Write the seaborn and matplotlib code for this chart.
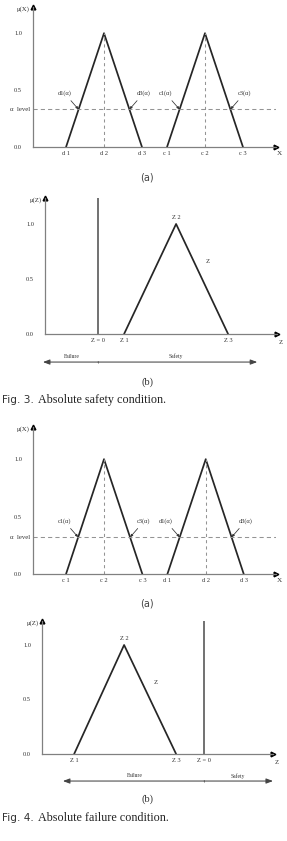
import numpy as np
import pandas as pd
import seaborn as sns
import matplotlib.pyplot as plt

# ---------------- data ----------------
mu_tri = [0.0, 1.0, 0.0]                 # membership of triangle vertices
fig3_d = [0.87, 1.87, 2.87]              # d1, d2, d3 (Fig 3a)
fig3_c = [3.53, 4.53, 5.53]              # c1, c2, c3 (Fig 3a)
fig3_alpha = 0.33
fig3_xticklabels = ["d 1", "d 2", "d 3", "c 1", "c 2", "c 3"]
fig3_z = [1.52, 2.52, 3.52]              # Z1, Z2, Z3 (Fig 3b)
fig3_zero = 1.02                         # Z = 0 (Fig 3b)

fig4_c = [0.87, 1.87, 2.88]              # c1, c2, c3 (Fig 4a)
fig4_d = [3.54, 4.55, 5.55]              # d1, d2, d3 (Fig 4a)
fig4_alpha = 0.32
fig4_xticklabels = ["c 1", "c 2", "c 3", "d 1", "d 2", "d 3"]
fig4_z = [0.63, 1.61, 2.63]
fig4_zero = 3.18

ytick_major = [0.0, 0.5, 1.0]
ytick_major_labels = ["0.0", "0.5", "1.0"]
ytick_minor = [0.25, 0.75]

# ---------------- style ----------------
sns.set_style("white")
plt.rcParams["font.family"] = ["Liberation Serif", "DejaVu Serif"]

W, H = 287, 841
fig = plt.figure(figsize=(W / 100, H / 100), dpi=100)

AX_COL = "#808080"
LINE_COL = "#262626"
DASH_COL = "#949494"
TICK_FS = 4.6


def add_ax(left_px, axis_y_px, width_px, height_px):
    return fig.add_axes([left_px / W, 1 - axis_y_px / H, width_px / W, height_px / H])


def base_axes(ax, xlim, ylim, ylabel):
    ax.set_xlim(*xlim)
    ax.set_ylim(*ylim)
    for s in ["top", "right"]:
        ax.spines[s].set_visible(False)
    for s in ["left", "bottom"]:
        ax.spines[s].set_color(AX_COL)
        ax.spines[s].set_linewidth(0.9)
    ax.set_yticks(ytick_major)
    ax.set_yticklabels(ytick_major_labels)
    ax.set_yticks(ytick_minor, minor=True)
    ax.tick_params(axis="y", which="both", length=3, width=0.6, color=AX_COL,
                   labelsize=TICK_FS, pad=5, labelcolor="#333333")
    ax.tick_params(axis="x", length=0, labelsize=TICK_FS, pad=3, labelcolor="#333333")
    ax.plot(0, 1, marker="^", color="black", ms=3.4, transform=ax.transAxes, clip_on=False)
    ax.plot(1, 0, marker=">", color="black", ms=3.4, transform=ax.transAxes, clip_on=False)
    ax.annotate(ylabel, xy=(0, 1), xycoords="axes fraction", xytext=(-2.6, -1.5),
                textcoords="offset points", ha="right", va="center",
                fontsize=4.9, color="#333333", zorder=10)
    ax.grid(False)


def triangle(ax, xs):
    df = pd.DataFrame({"x": xs, "mu": mu_tri})
    sns.lineplot(data=df, x="x", y="mu", ax=ax, color=LINE_COL, lw=1.25,
                 sort=False, estimator=None, legend=False)


def alpha_panel(ax, left, right, alpha, xticklabels, lab_l, lab_r, axis_letter):
    triangle(ax, left)
    triangle(ax, right)
    ax.axhline(alpha, color=DASH_COL, lw=0.75, ls=(0, (4, 3)))
    for tri in (left, right):
        ax.plot([tri[1], tri[1]], [0, 1], color=DASH_COL, lw=0.75, ls=(0, (3, 3)))
    ax.set_xticks(left + right)
    ax.set_xticklabels(xticklabels)
    ax.set_xlabel("")
    ax.set_ylabel("")
    ax.text(-0.01, alpha, "α  level", transform=ax.get_yaxis_transform(),
            ha="right", va="center", fontsize=4.9, color="#333333")
    ax.annotate(axis_letter, xy=(1, 0), xycoords="axes fraction", xytext=(2.5, -5),
                textcoords="offset points", ha="center", va="center",
                fontsize=5.2, color="#333333")
    arrow = dict(arrowstyle="-|>,head_length=0.35,head_width=0.15", color="#333333",
                 lw=0.55, shrinkA=1, shrinkB=0)
    for tri, (ll, lr) in ((left, lab_l), (right, lab_r)):
        xl = tri[0] + alpha * (tri[1] - tri[0])
        xr = tri[2] - alpha * (tri[2] - tri[1])
        ax.annotate(ll, xy=(xl, alpha), xytext=(-10, 11.5), textcoords="offset points",
                    ha="center", va="center", fontsize=4.6, color="#333333",
                    arrowprops=arrow)
        ax.annotate(lr, xy=(xr, alpha), xytext=(10, 11.5), textcoords="offset points",
                    ha="center", va="center", fontsize=4.6, color="#333333",
                    arrowprops=arrow)


def z_panel(ax, z, zero, z_lab_xy, arrow_y, arrow_x, fail_x, safe_x, text_y):
    triangle(ax, z)
    top = ax.get_ylim()[1]
    ax.plot([zero, zero], [0, top], color="#666666", lw=1.3)
    ticks = sorted([zero, z[0], z[2]])
    labs = {zero: "Z = 0", z[0]: "Z 1", z[2]: "Z 3"}
    ax.set_xticks(ticks)
    ax.set_xticklabels([labs[t] for t in ticks])
    ax.set_xlabel("")
    ax.set_ylabel("")
    ax.annotate("Z 2", xy=(z[1], 1.0), xytext=(0, 4.5), textcoords="offset points",
                ha="center", va="center", fontsize=4.6, color="#333333")
    ax.text(z_lab_xy[0], z_lab_xy[1], "Z", ha="center", va="center",
            fontsize=4.8, color="#333333")
    ax.annotate("Z", xy=(1, 0), xycoords="axes fraction", xytext=(3, -6),
                textcoords="offset points", ha="center", va="center",
                fontsize=4.8, color="#333333")
    ap = dict(arrowstyle="-|>,head_length=0.4,head_width=0.15", color="#444444",
              lw=0.75, shrinkA=0, shrinkB=0)
    ax.annotate("", xy=(arrow_x[0], arrow_y), xytext=(zero, arrow_y), arrowprops=ap,
                annotation_clip=False)
    ax.annotate("", xy=(arrow_x[1], arrow_y), xytext=(zero, arrow_y), arrowprops=ap,
                annotation_clip=False)
    ax.plot([zero, zero], [arrow_y - 0.012, arrow_y + 0.012], color="#777777",
            lw=0.5, clip_on=False)
    ax.text(fail_x, text_y, "Failure", ha="center", va="center", fontsize=4.1,
            color="#333333", clip_on=False)
    ax.text(safe_x, text_y, "Safety", ha="center", va="center", fontsize=4.1,
            color="#333333", clip_on=False)


# ---------------- Fig 3 (a) ----------------
ax1 = add_ax(33, 147, 243, 140)
base_axes(ax1, (0, 6.4), (0, 1.23), "μ(X)")
alpha_panel(ax1, fig3_d, fig3_c, fig3_alpha, fig3_xticklabels,
            ("d1(α)", "d3(α)"), ("c1(α)", "c3(α)"), "X")

# ---------------- Fig 3 (b) ----------------
ax2 = add_ax(45, 334, 232, 136)
base_axes(ax2, (0, 4.46), (0, 1.236), "μ(Z)")
z_panel(ax2, fig3_z, fig3_zero, (3.12, 0.66), -0.255, (-0.04, 4.08), 0.52, 2.52, -0.205)

# ---------------- Fig 4 (a) ----------------
ax3 = add_ax(33, 574, 243, 147)
base_axes(ax3, (0, 6.4), (0, 1.28), "μ(X)")
alpha_panel(ax3, fig4_c, fig4_d, fig4_alpha, fig4_xticklabels,
            ("c1(α)", "c3(α)"), ("d1(α)", "d3(α)"), "X")

# ---------------- Fig 4 (b) ----------------
ax4 = add_ax(42, 754, 231, 133)
base_axes(ax4, (0, 4.53), (0, 1.22), "μ(Z)")
z_panel(ax4, fig4_z, fig4_zero, (2.22, 0.66), -0.248, (0.41, 4.53), 1.82, 3.84, -0.2)

# ---------------- sub-captions ----------------
def ftext(xpx, ypx, s, **kw):
    fig.text(xpx / W, 1 - ypx / H, s, **kw)

ftext(147, 177, "(a)", ha="center", va="center", fontsize=7, family="DejaVu Sans",
      color="#444444")
ftext(147, 382, "(b)", ha="center", va="center", fontsize=7.5, color="#333333")
ftext(147, 603, "(a)", ha="center", va="center", fontsize=7, family="DejaVu Sans",
      color="#444444")
ftext(147, 799, "(b)", ha="center", va="center", fontsize=7.5, color="#333333")

ftext(2, 400, "Fig. 3.", ha="left", va="center", fontsize=7.6, family="DejaVu Sans",
      color="#333333")
ftext(38, 400, "Absolute safety condition.", ha="left", va="center", fontsize=8.7,
      color="#222222")
ftext(2, 818, "Fig. 4.", ha="left", va="center", fontsize=7.6, family="DejaVu Sans",
      color="#333333")
ftext(38, 818, "Absolute failure condition.", ha="left", va="center", fontsize=8.7,
      color="#222222")

fig.savefig("out.png", dpi=100)
